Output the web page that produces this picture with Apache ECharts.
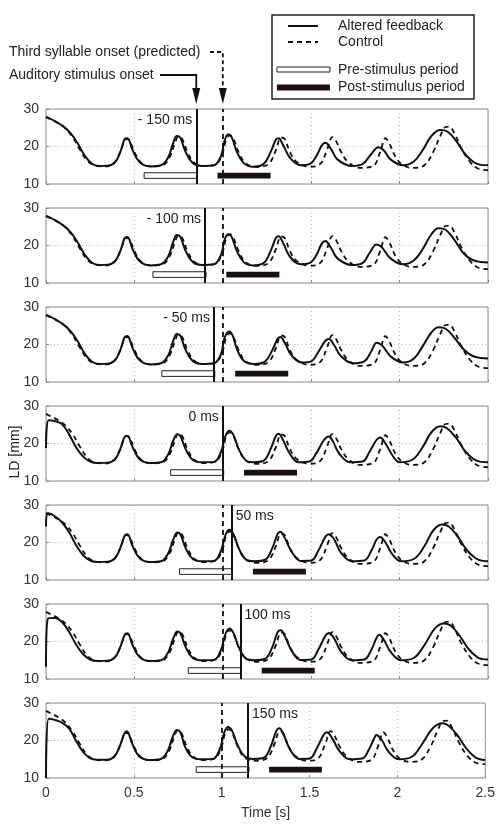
<!DOCTYPE html>
<html>
<head>
<meta charset="utf-8">
<title>LD traces</title>
<script src="https://cdn.jsdelivr.net/npm/echarts@6/dist/echarts.min.js"></script>
<style>
  body { margin: 0; background: #fff; }
  #chart { width: 498px; height: 830px; }
</style>
</head>
<body>
<div id="chart"></div>
<script>
// control (dashed), same in every panel: [time s, LD mm]
var control = [
  [0,27.9],[0.03,27.2],[0.07,26.2],[0.11,24.8],[0.15,22.5],[0.19,19.3],[0.23,16.4],[0.27,15.0],[0.32,14.7],[0.37,15.0],
  [0.40,16.5],[0.43,19.8],[0.455,22.0],[0.47,21.8],[0.5,18.5],[0.54,15.6],[0.6,14.7],[0.66,15.0],[0.7,17.2],[0.73,21.0],
  [0.75,22.7],[0.77,22.0],[0.8,18.5],[0.84,15.6],[0.9,14.8],[0.96,15.2],[1.0,18.5],[1.02,22.0],[1.04,23.0],[1.06,22.0],
  [1.09,18.5],[1.13,15.5],[1.2,14.6],[1.26,15.4],[1.3,19.0],[1.33,22.4],[1.35,22.0],[1.38,18.5],[1.42,15.8],[1.49,14.6],
  [1.55,15.3],[1.59,19.2],[1.62,22.5],[1.64,21.5],[1.67,18.5],[1.71,15.8],[1.78,14.3],[1.85,14.8],[1.89,18.5],[1.92,22.2],
  [1.94,21.0],[1.98,17.0],[2.02,15.0],[2.08,14.3],[2.14,15.0],[2.19,18.5],[2.23,22.8],[2.26,25.2],[2.28,25.3],[2.31,23.5],
  [2.35,19.5],[2.4,15.8],[2.45,14.0],[2.5,13.7]
];

// altered feedback (solid), one per panel
var altered1 = [
  [0,27.8],[0.02,27.5],[0.06,26.5],[0.1,25.3],[0.14,23.5],[0.18,20.8],[0.22,17.5],[0.26,15.4],[0.3,14.8],[0.35,14.9],
  [0.39,15.8],[0.42,18.5],[0.445,22.0],[0.46,22.2],[0.49,19.0],[0.53,15.8],[0.59,14.7],[0.65,15.0],[0.69,17.0],[0.72,21.0],
  [0.74,22.8],[0.76,22.3],[0.79,18.5],[0.83,15.6],[0.88,14.8],[0.95,15.0],[0.99,17.5],[1.01,21.5],[1.03,23.2],[1.05,22.5],
  [1.08,18.5],[1.12,15.5],[1.17,14.6],[1.23,15.3],[1.27,18.5],[1.3,21.8],[1.315,22.2],[1.34,20.5],[1.38,17.0],[1.44,15.0],
  [1.49,15.3],[1.53,17.5],[1.56,20.3],[1.58,21.0],[1.61,19.5],[1.65,16.5],[1.73,14.8],[1.79,15.3],[1.84,18.0],[1.88,19.8],
  [1.91,19.0],[1.95,16.5],[2.02,15.0],[2.08,16.0],[2.13,19.0],[2.18,22.8],[2.23,24.4],[2.27,24.0],[2.32,21.5],[2.37,18.0],
  [2.42,15.8],[2.46,15.1],[2.5,15.0]
];
var altered2 = [
  [0,27.8],[0.02,27.5],[0.06,26.5],[0.1,25.3],[0.14,23.5],[0.18,20.8],[0.22,17.5],[0.26,15.4],[0.3,14.8],[0.35,14.9],
  [0.39,15.8],[0.42,18.5],[0.445,22.0],[0.46,22.3],[0.49,19.0],[0.53,15.8],[0.59,14.7],[0.65,15.0],[0.69,17.0],[0.72,21.0],
  [0.74,22.8],[0.76,22.3],[0.79,18.5],[0.83,15.6],[0.88,14.8],[0.95,15.0],[0.99,17.5],[1.01,21.5],[1.03,23.0],[1.05,22.3],
  [1.08,18.5],[1.12,15.5],[1.17,14.7],[1.23,15.3],[1.27,18.5],[1.3,22.0],[1.315,22.5],[1.34,20.8],[1.38,17.0],[1.44,15.0],
  [1.49,15.3],[1.53,17.5],[1.56,20.5],[1.58,21.2],[1.61,19.5],[1.65,16.5],[1.73,14.8],[1.79,15.3],[1.83,18.0],[1.87,20.3],
  [1.9,19.5],[1.95,16.5],[2.02,15.0],[2.08,16.0],[2.13,19.0],[2.18,23.0],[2.22,24.6],[2.26,24.2],[2.31,21.5],[2.36,18.0],
  [2.41,16.2],[2.46,15.6],[2.5,15.5]
];
var altered3 = [
  [0,27.8],[0.02,27.5],[0.06,26.5],[0.1,25.3],[0.14,23.5],[0.18,20.8],[0.22,17.5],[0.26,15.4],[0.3,14.8],[0.35,14.9],
  [0.39,15.8],[0.42,18.5],[0.445,22.0],[0.46,22.3],[0.49,19.0],[0.53,15.8],[0.59,14.7],[0.65,15.0],[0.69,17.0],[0.72,21.0],
  [0.74,22.8],[0.76,22.3],[0.79,18.5],[0.83,15.6],[0.88,14.8],[0.95,15.0],[0.99,17.5],[1.01,21.8],[1.035,23.5],[1.055,22.5],
  [1.08,18.8],[1.12,15.6],[1.18,14.8],[1.24,15.5],[1.28,18.5],[1.31,21.5],[1.325,22.0],[1.35,20.5],[1.39,17.0],[1.45,15.2],
  [1.5,15.5],[1.54,18.0],[1.58,21.0],[1.6,21.5],[1.63,19.8],[1.67,16.8],[1.74,15.0],[1.8,15.5],[1.84,18.2],[1.87,20.5],
  [1.9,19.8],[1.95,16.8],[2.02,15.2],[2.08,16.2],[2.13,19.5],[2.18,23.2],[2.22,24.6],[2.26,24.2],[2.31,21.8],[2.36,18.8],
  [2.41,17.0],[2.46,16.4],[2.5,16.3]
];
var altered4 = [
  [0,18.8],[0.015,26.2],[0.05,26.0],[0.09,25.2],[0.13,22.5],[0.17,19.0],[0.21,16.5],[0.25,15.2],[0.29,14.8],[0.35,14.9],
  [0.39,15.8],[0.42,18.5],[0.445,21.8],[0.46,22.0],[0.49,19.0],[0.53,15.8],[0.59,14.8],[0.65,15.0],[0.69,17.0],[0.72,20.8],
  [0.743,22.5],[0.76,22.0],[0.79,18.5],[0.83,15.6],[0.88,15.0],[0.95,15.1],[0.99,17.8],[1.015,22.0],[1.037,23.4],[1.06,22.3],
  [1.09,18.5],[1.13,15.5],[1.17,15.0],[1.23,15.4],[1.27,18.5],[1.3,22.0],[1.315,22.6],[1.34,21.0],[1.38,17.2],[1.43,15.0],
  [1.49,15.2],[1.53,17.5],[1.57,20.8],[1.598,21.9],[1.62,20.8],[1.66,17.2],[1.72,15.0],[1.79,15.2],[1.83,17.8],[1.87,21.0],
  [1.89,21.6],[1.92,20.0],[1.96,16.8],[2.0,15.0],[2.07,15.6],[2.13,19.0],[2.18,23.0],[2.23,24.6],[2.27,24.0],[2.32,21.5],
  [2.37,18.0],[2.42,15.8],[2.46,15.1],[2.5,15.0]
];
var altered5 = [
  [0,24.3],[0.012,27.8],[0.05,27.0],[0.09,25.4],[0.13,22.8],[0.17,19.3],[0.21,16.6],[0.25,15.2],[0.29,14.8],[0.35,14.9],
  [0.39,15.8],[0.42,18.5],[0.445,21.8],[0.46,22.2],[0.49,19.0],[0.53,15.8],[0.59,14.8],[0.65,15.0],[0.69,17.0],[0.72,20.8],
  [0.743,22.7],[0.76,22.2],[0.79,18.5],[0.83,15.6],[0.88,15.0],[0.95,15.1],[0.99,17.8],[1.015,22.0],[1.037,23.4],[1.06,22.3],
  [1.09,18.5],[1.13,15.5],[1.18,15.0],[1.24,15.4],[1.28,18.5],[1.31,22.3],[1.325,22.9],[1.35,21.3],[1.39,17.5],[1.44,15.1],
  [1.5,15.2],[1.54,17.8],[1.58,21.5],[1.6,22.2],[1.63,20.8],[1.67,17.2],[1.73,15.0],[1.8,15.2],[1.84,17.8],[1.87,20.8],
  [1.89,21.5],[1.92,20.0],[1.96,16.8],[2.01,15.0],[2.08,15.6],[2.14,19.0],[2.19,23.2],[2.24,24.8],[2.28,24.2],[2.33,21.5],
  [2.38,18.0],[2.43,15.8],[2.47,15.1],[2.5,15.0]
];
var altered6 = [
  [0,13.3],[0.012,26.2],[0.05,26.3],[0.09,25.2],[0.13,22.6],[0.17,19.2],[0.21,16.6],[0.25,15.2],[0.29,14.8],[0.35,14.9],
  [0.39,15.8],[0.42,18.5],[0.445,21.8],[0.46,22.2],[0.49,19.0],[0.53,15.8],[0.59,14.8],[0.65,15.0],[0.69,17.0],[0.72,20.8],
  [0.743,22.7],[0.76,22.2],[0.79,18.5],[0.83,15.6],[0.88,15.0],[0.95,15.1],[0.99,17.8],[1.015,22.0],[1.037,23.5],[1.06,22.3],
  [1.09,18.5],[1.13,15.5],[1.18,15.0],[1.24,15.4],[1.28,18.5],[1.31,22.5],[1.328,23.0],[1.35,21.5],[1.39,17.5],[1.44,15.1],
  [1.5,15.2],[1.54,17.8],[1.58,21.5],[1.6,22.3],[1.63,20.8],[1.67,17.2],[1.73,15.0],[1.8,15.2],[1.84,17.8],[1.87,21.0],
  [1.885,21.8],[1.91,20.5],[1.95,17.2],[2.01,15.0],[2.08,15.6],[2.14,19.0],[2.2,23.5],[2.25,24.8],[2.29,24.2],[2.34,21.5],
  [2.39,18.0],[2.44,15.8],[2.47,15.3],[2.5,15.2]
];
var altered7 = [
  [0,10.0],[0.015,25.8],[0.05,25.5],[0.09,24.8],[0.13,23.3],[0.17,20.0],[0.21,17.0],[0.25,15.3],[0.29,14.9],[0.35,14.9],
  [0.39,15.8],[0.42,18.5],[0.445,21.8],[0.46,22.5],[0.49,19.2],[0.53,15.8],[0.59,14.8],[0.65,15.0],[0.69,17.0],[0.72,20.8],
  [0.745,22.8],[0.765,22.2],[0.79,18.5],[0.83,15.6],[0.88,15.0],[0.95,15.1],[0.99,17.8],[1.015,22.2],[1.037,23.6],[1.06,22.5],
  [1.09,18.8],[1.13,15.8],[1.18,15.1],[1.24,15.4],[1.28,18.5],[1.31,22.5],[1.328,23.3],[1.35,21.8],[1.39,17.5],[1.44,15.1],
  [1.5,15.2],[1.54,17.8],[1.58,21.5],[1.598,22.2],[1.63,20.5],[1.67,17.2],[1.73,15.0],[1.8,15.2],[1.84,17.8],[1.87,20.8],
  [1.88,21.5],[1.91,20.2],[1.95,17.0],[2.01,15.0],[2.08,15.6],[2.14,19.0],[2.2,23.2],[2.255,24.6],[2.29,24.0],[2.34,21.5],
  [2.39,18.0],[2.44,15.6],[2.47,15.0],[2.5,14.8]
];

var altered = [altered1, altered2, altered3, altered4, altered5, altered6, altered7];
var stimOnset = [0.85, 0.90, 0.95, 1.00, 1.05, 1.10, 1.15];
var delayText = ['- 150 ms', '- 100 ms', '- 50 ms', '0 ms', '50 ms', '100 ms', '150 ms'];
var labelSide = ['left', 'left', 'left', 'left', 'right', 'right', 'right'];
var predictedOnset = 1.0;
var preBars = [[0.555,0.855],[0.605,0.905],[0.655,0.955],[0.705,1.005],[0.755,1.055],[0.805,1.105],[0.855,1.155]];
var postBars = [[0.97,1.27],[1.02,1.32],[1.07,1.37],[1.12,1.42],[1.17,1.47],[1.22,1.52],[1.27,1.57]];
var barRange = [11.5, 13.0];

var FONT = '"Liberation Sans", Arial, sans-serif';
var panelTop = 109, panelGap = 99, panelH = 75;

var grids = [], xAxes = [], yAxes = [], series = [];
for (var i = 0; i < 7; i++) {
  var last = (i === 6);
  grids.push({ left: 46, width: 442, top: panelTop + panelGap * i, height: panelH,
               show: true, borderColor: '#8a8a8a', borderWidth: 1 });
  xAxes.push({
    type: 'value', gridIndex: i, min: 0, max: 2.5, interval: 0.5,
    axisLine: { show: false },
    axisTick: { show: true, inside: true, length: 3, lineStyle: { color: '#8a8a8a' } },
    axisLabel: { show: last, fontSize: 14, color: '#333', fontFamily: FONT, margin: 8,
                 showMinLabel: true, showMaxLabel: true },
    splitLine: { show: true, lineStyle: { type: [1, 3], color: '#b5b5b5' } },
    name: last ? 'Time [s]' : '', nameLocation: 'middle', nameGap: 28,
    nameTextStyle: { fontSize: 14, color: '#333', fontFamily: FONT }
  });
  yAxes.push({
    type: 'value', gridIndex: i, min: 10, max: 30, interval: 10,
    axisLine: { show: false },
    axisTick: { show: true, inside: true, length: 3, lineStyle: { color: '#8a8a8a' } },
    axisLabel: { fontSize: 14, color: '#333', fontFamily: FONT, margin: 7 },
    splitLine: { show: true, lineStyle: { type: [1, 3], color: '#b5b5b5' } }
  });

  var vlines = [{ xAxis: stimOnset[i], lineStyle: { type: 'solid', width: 2, color: '#111' } }];
  if (stimOnset[i] !== predictedOnset) {
    vlines.push({ xAxis: predictedOnset, lineStyle: { type: [5, 4], width: 1.8, color: '#111' } });
  }

  series.push({
    type: 'line', xAxisIndex: i, yAxisIndex: i, data: control,
    showSymbol: false, smooth: 0.4, silent: true, animation: false,
    lineStyle: { color: '#111', width: 1.8, type: [5, 4] }, z: 3
  });
  series.push({
    type: 'line', xAxisIndex: i, yAxisIndex: i, data: altered[i],
    showSymbol: false, smooth: 0.4, silent: true, animation: false,
    lineStyle: { color: '#111', width: 2 }, z: 4,
    markLine: { silent: true, symbol: 'none', animation: false, label: { show: false }, data: vlines },
    markArea: {
      silent: true, animation: false,
      data: [
        [{ xAxis: preBars[i][0], yAxis: barRange[0], itemStyle: { color: '#fff', borderColor: '#222', borderWidth: 1 } },
         { xAxis: preBars[i][1], yAxis: barRange[1] }],
        [{ xAxis: postBars[i][0], yAxis: barRange[0], itemStyle: { color: '#1a1212', borderWidth: 0 } },
         { xAxis: postBars[i][1], yAxis: barRange[1] }]
      ]
    },
    markPoint: {
      silent: true, animation: false, symbol: 'circle', symbolSize: 0,
      data: [{ coord: [stimOnset[i], 27], label: {
        show: true, position: labelSide[i], distance: 4, formatter: delayText[i],
        fontSize: 14, color: '#222', fontFamily: FONT } }]
    }
  });
}

var chart = echarts.init(document.getElementById('chart'), null, { renderer: 'canvas' });
chart.setOption({
  animation: false,
  backgroundColor: '#fff',
  grid: grids, xAxis: xAxes, yAxis: yAxes, series: series
});

// annotations above the first panel and the legend box
var xStim = chart.convertToPixel({ xAxisIndex: 0 }, stimOnset[0]);
var xPred = chart.convertToPixel({ xAxisIndex: 0 }, predictedOnset);
var txt = { fontSize: 14, fill: '#222', fontFamily: FONT };
function t(x, y, s, extra) {
  var st = Object.assign({ text: s, x: x, y: y, textVerticalAlign: 'middle' }, txt, extra || {});
  return { type: 'text', style: st, silent: true };
}
function arrow(x) {
  return { type: 'polygon', shape: { points: [[x - 4, 88], [x + 4, 88], [x, 104]] }, style: { fill: '#111' }, silent: true };
}
chart.setOption({
  graphic: [
    t(9, 52, 'Third syllable onset (predicted)'),
    t(9, 75, 'Auditory stimulus onset'),
    { type: 'polyline', shape: { points: [[210, 52], [xPred, 52], [xPred, 90]] },
      style: { stroke: '#111', lineWidth: 1.8, lineDash: [4, 3], fill: null }, silent: true },
    { type: 'polyline', shape: { points: [[160, 75], [xStim, 75], [xStim, 90]] },
      style: { stroke: '#111', lineWidth: 1.8, fill: null }, silent: true },
    arrow(xPred), arrow(xStim),
    { type: 'rect', shape: { x: 272, y: 15, width: 202, height: 84 },
      style: { fill: '#fff', stroke: '#222', lineWidth: 1.5 }, silent: true },
    { type: 'line', shape: { x1: 288, y1: 26, x2: 318, y2: 26 }, style: { stroke: '#111', lineWidth: 2 }, silent: true },
    { type: 'line', shape: { x1: 288, y1: 42, x2: 318, y2: 42 }, style: { stroke: '#111', lineWidth: 1.8, lineDash: [5, 4] }, silent: true },
    { type: 'rect', shape: { x: 277, y: 67, width: 53, height: 5 }, style: { fill: '#fff', stroke: '#222', lineWidth: 1 }, silent: true },
    { type: 'rect', shape: { x: 277, y: 84.5, width: 53, height: 6 }, style: { fill: '#1a1212' }, silent: true },
    t(338, 26, 'Altered feedback'),
    t(338, 42, 'Control'),
    t(338, 70, 'Pre-stimulus period'),
    t(338, 87, 'Post-stimulus period'),
    { type: 'text', x: 15, y: 452, rotation: Math.PI / 2,
      style: Object.assign({ text: 'LD [mm]', textAlign: 'center', textVerticalAlign: 'middle' }, txt), silent: true }
  ]
});
</script>
</body>
</html>
